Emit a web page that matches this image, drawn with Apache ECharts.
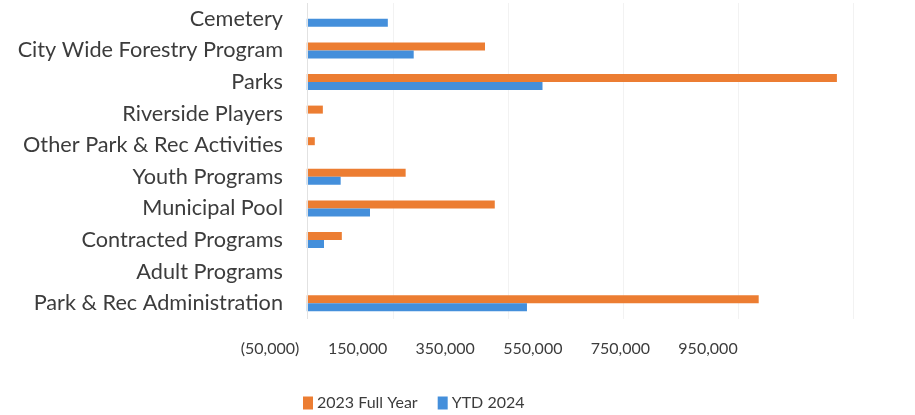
<!DOCTYPE html>
<html><head><meta charset="utf-8">
<script src="https://cdn.jsdelivr.net/npm/echarts@6/dist/echarts.min.js"></script>
<style>html,body{margin:0;padding:0;background:#fff}#c{width:915px;height:415px}</style>
</head><body><div id="c"></div>
<script>
// Data (bottom to top, as on the chart's category axis)
const categories = ['Park & Rec Administration', 'Adult Programs', 'Contracted Programs', 'Municipal Pool', 'Youth Programs', 'Other Park & Rec Activities', 'Riverside Players', 'Parks', 'City Wide Forestry Program', 'Cemetery'];
const fullYear2023 = [786000, 0, 61000, 327000, 172000, 14000, 28000, 922000, 310000, 0];
const ytd2024 = [383000, 0, 30000, 110000, 59000, 0, 0, 410000, 186000, 141000];
const seriesNames = ['2023 Full Year', 'YTD 2024'];
const tickLabels = ['(50,000)', '150,000', '350,000', '550,000', '750,000', '950,000'];
const axisMin = -50000, axisMax = 950000, tickStep = 200000;

const FONT = 'Lato';
const TXT = '#3c3c3c';
const chart = echarts.init(document.getElementById('c'), null, {renderer: 'canvas'});
chart.setOption({
  animation: false,
  color: ['#EC7D32', '#448FDB'],
  grid: [
    {left: 278, right: 62, top: 3, bottom: 96, containLabel: false, outerBoundsMode: 'none'},
    {left: 270, width: 438, top: 3, bottom: 96, containLabel: false, outerBoundsMode: 'none'}
  ],
  legend: {
    data: seriesNames, left: 298, top: 390, icon: 'rect', itemWidth: 10, itemHeight: 13, itemGap: 20,
    textStyle: {fontFamily: FONT, fontSize: 16, color: TXT, padding: [0, 0, 0, -1]}
  },
  xAxis: [
    {gridIndex: 0, type: 'value', min: axisMin, max: axisMax,
     axisLine: {show: false}, axisTick: {show: false}, axisLabel: {show: false}, splitLine: {show: false}},
    {gridIndex: 0, type: 'value', min: 0, max: axisMax - axisMin, interval: tickStep, position: 'bottom',
     axisLine: {show: false}, axisTick: {show: false}, axisLabel: {show: false},
     splitLine: {show: true, showMinLine: false, lineStyle: {color: '#f2f2f2', width: 1}}},
    {gridIndex: 1, type: 'value', min: 0, max: axisMax - axisMin, interval: tickStep, position: 'bottom',
     axisLine: {show: false}, axisTick: {show: false}, splitLine: {show: false},
     axisLabel: {show: true, margin: 22, fontFamily: FONT, fontSize: 16, color: TXT,
       formatter: (v, i) => tickLabels[i]}}
  ],
  yAxis: [
    {gridIndex: 0, type: 'category', data: categories,
     axisTick: {show: false}, axisLine: {show: false, onZero: false},
     axisLabel: {fontFamily: FONT, fontSize: 21.7, color: TXT, margin: -5}},
    {gridIndex: 1, type: 'value', min: 0, max: 1, show: false}
  ],
  series: [
    {name: seriesNames[0], type: 'bar', xAxisIndex: 0, yAxisIndex: 0, data: fullYear2023, barWidth: 8, barGap: '0%',
     markLine: {silent: true, symbol: 'none', label: {show: false}, lineStyle: {color: '#e2e2e2', type: 'solid', width: 1},
       data: [{xAxis: 0}]}},
    {name: seriesNames[1], type: 'bar', xAxisIndex: 0, yAxisIndex: 0, data: ytd2024, barWidth: 8, barGap: '0%'}
  ]
});
</script></body></html>
